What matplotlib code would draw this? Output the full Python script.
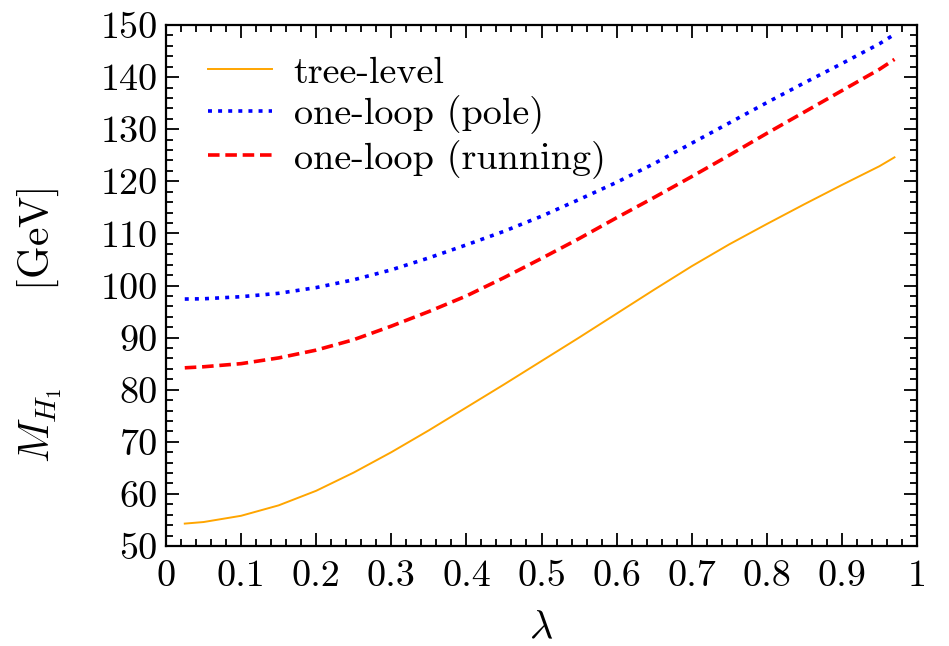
import numpy as np
import matplotlib
matplotlib.use("Agg")
import matplotlib.pyplot as plt
from matplotlib.ticker import MultipleLocator, FixedLocator, FixedFormatter

plt.rcParams['font.family'] = 'serif'
plt.rcParams['font.serif'] = ['cmr10']
plt.rcParams['mathtext.fontset'] = 'cm'
plt.rcParams['axes.formatter.use_mathtext'] = True

lam = [0.025, 0.05, 0.1, 0.15, 0.2, 0.25, 0.3, 0.35, 0.4, 0.45, 0.5,
       0.55, 0.6, 0.65, 0.7, 0.75, 0.8, 0.85, 0.9, 0.95, 0.97]
tree = [54.3, 54.6, 55.8, 57.8, 60.6, 64.1, 68.0, 72.2, 76.6, 81.0, 85.5,
        90.0, 94.6, 99.2, 103.7, 107.9, 111.8, 115.6, 119.3, 122.9, 124.6]
pole = [97.4, 97.45, 97.85, 98.5, 99.6, 101.1, 103.0, 105.3, 107.8, 110.4, 113.3,
        116.5, 119.8, 123.4, 127.3, 131.2, 135.1, 138.9, 142.6, 146.4, 148.2]
running = [84.2, 84.4, 85.0, 86.1, 87.6, 89.6, 92.2, 95.0, 98.0, 101.5, 105.2,
           109.0, 113.0, 116.9, 120.9, 125.0, 129.2, 133.3, 137.4, 141.5, 143.4]

series_labels = ['tree-level', 'one-loop (pole)', 'one-loop (running)']
xticks = [0, 0.1, 0.2, 0.3, 0.4, 0.5, 0.6, 0.7, 0.8, 0.9, 1]
xticklabels = ['0', '0.1', '0.2', '0.3', '0.4', '0.5', '0.6', '0.7', '0.8', '0.9', '1']
yticks = [50, 60, 70, 80, 90, 100, 110, 120, 130, 140, 150]
yticklabels = [str(v) for v in yticks]

fig = plt.figure(figsize=(9.49, 6.46), dpi=100)
ax = fig.add_axes([166/949, 1-546/646, (917-166)/949, (546-25)/646])

ax.plot(lam, tree, color='#ffa500', lw=1.4, label=series_labels[0])
ax.plot(lam, pole, color='#0000ff', lw=2.6, dashes=(1.1, 1.7), label=series_labels[1])
ax.plot(lam, running, color='#ff0000', lw=2.6, dashes=(3.2, 1.6), label=series_labels[2])

ax.set_xlim(0, 1)
ax.set_ylim(50, 150)
ax.xaxis.set_major_locator(FixedLocator(xticks))
ax.xaxis.set_major_formatter(FixedFormatter(xticklabels))
ax.yaxis.set_major_locator(FixedLocator(yticks))
ax.yaxis.set_major_formatter(FixedFormatter(yticklabels))
ax.xaxis.set_minor_locator(MultipleLocator(0.02))
ax.yaxis.set_minor_locator(MultipleLocator(2))
ax.tick_params(which='both', direction='in', top=True, right=True, width=1.3, colors='black')
ax.tick_params(which='major', length=9.5, labelsize=27.5)
ax.tick_params(axis='y', which='major', pad=6)
ax.tick_params(axis='x', which='major', pad=10)
ax.tick_params(which='minor', length=5)
for s in ax.spines.values():
    s.set_linewidth(1.6)

ax.set_xlabel(r'$\lambda$', fontsize=29)
ax.xaxis.set_label_coords(0.5, -0.158, transform=ax.transAxes)
ax.xaxis.label.set_va('center')
ax.set_ylabel(r'$M_{H_1}\qquad\;\;[\mathrm{GeV}]$', fontsize=30)
ax.yaxis.set_label_coords(-0.168, 0.424, transform=ax.transAxes)
ax.yaxis.label.set_va('center')

leg = ax.legend(loc='upper left', frameon=False, fontsize=27.5, handlelength=1.7,
                handletextpad=0.55, labelspacing=0.15, borderaxespad=0.0,
                bbox_to_anchor=(0.035, 0.97))

fig.savefig('out.png', dpi=100)
